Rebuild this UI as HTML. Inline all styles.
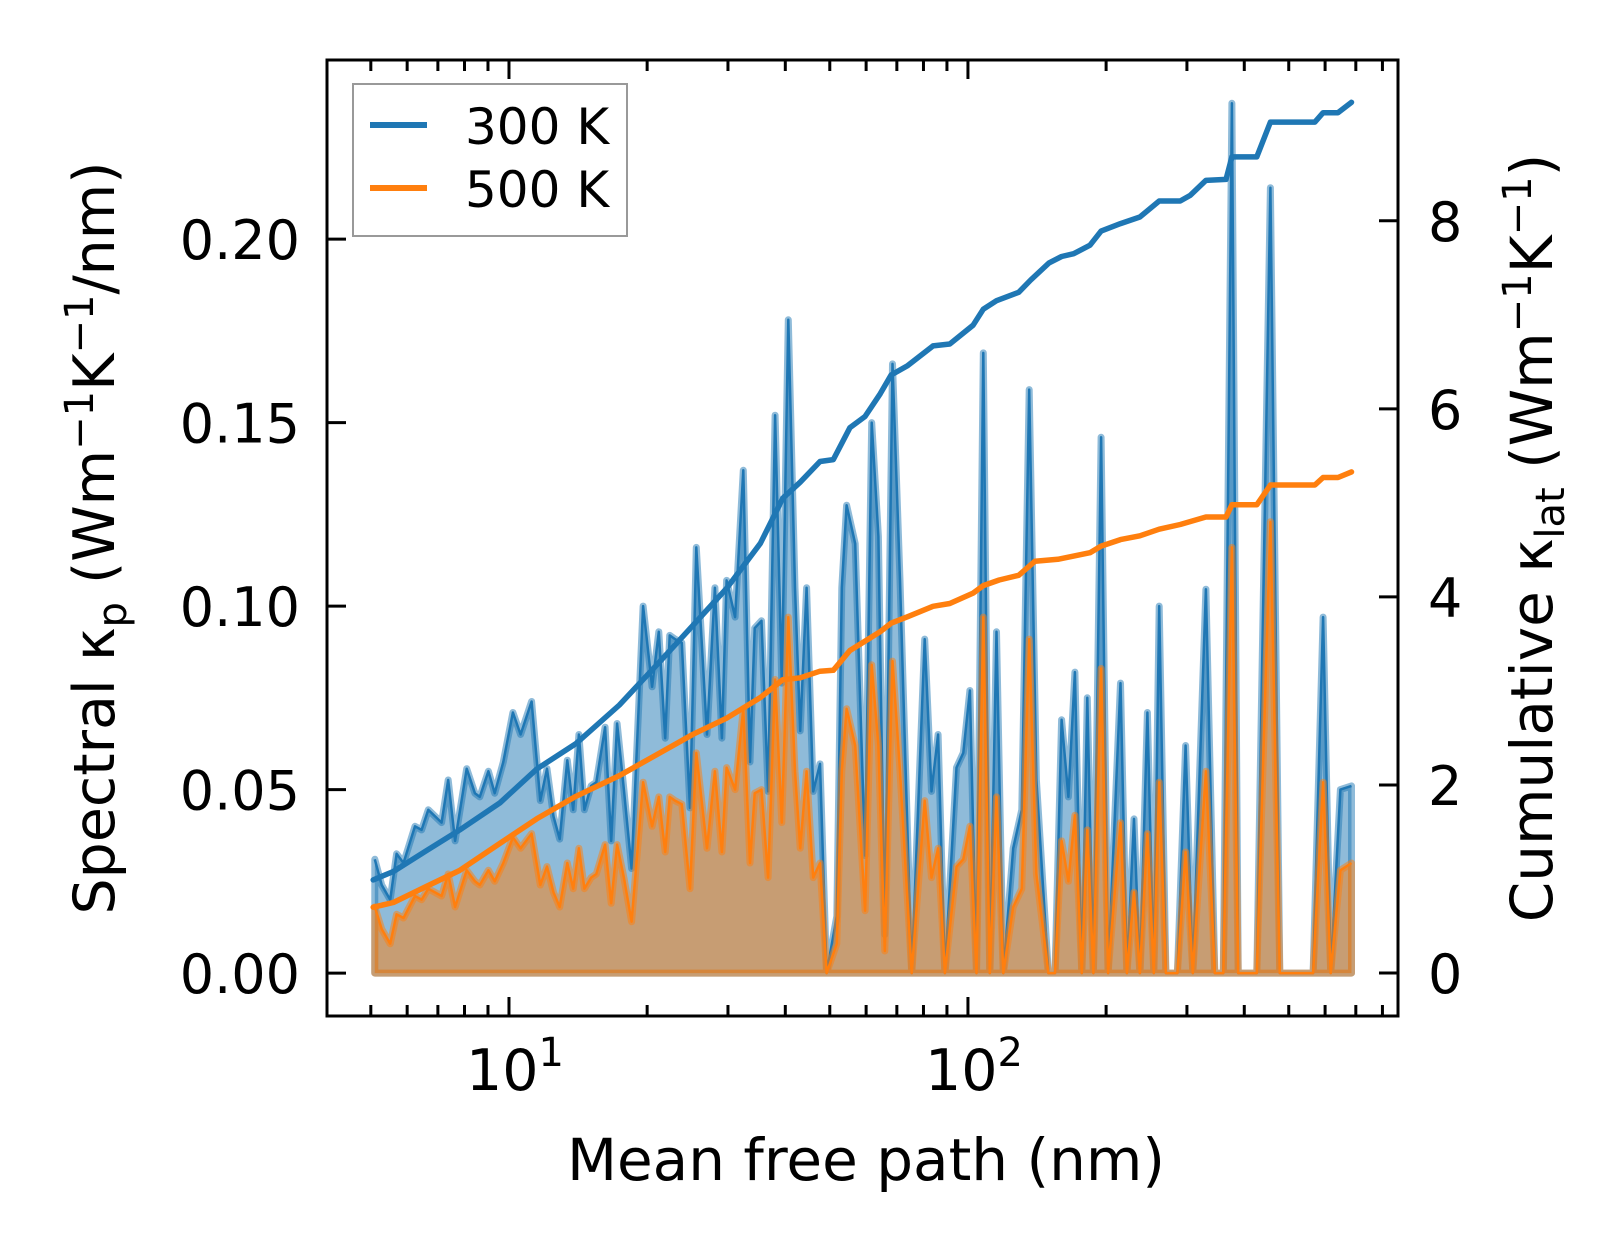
<!DOCTYPE html>
<html><head><meta charset="utf-8">
<style>
html,body{margin:0;padding:0;background:#fff;}
svg{display:block;}
text{font-family:"DejaVu Sans","Liberation Sans",sans-serif;fill:#000;}
</style></head>
<body>
<svg id="chart" xmlns="http://www.w3.org/2000/svg" width="1623" height="1254" viewBox="0 0 1623 1254">
<rect width="1623" height="1254" fill="#fff"/>
<g id="plot"></g>
</svg>
<script>
// ---- data ----
const mfp = [5.1,5.28,5.51,5.69,5.89,6.24,6.45,6.67,7.13,7.37,7.63,8.09,8.43,8.64,9.02,9.31,9.72,10.2,10.6,11.2,11.7,12.1,12.5,12.9,13.4,13.8,14.2,14.6,15.1,15.5,16.2,16.7,17.2,17.8,18.5,19.6,20.5,21.2,21.9,22.4,23.0,23.8,24.8,25.6,27.0,28.1,29.1,29.8,31.1,32.4,33.5,34.3,35.5,36.7,38.0,39.3,40.6,42.0,43.1,44.5,46.0,47.6,49.2,51.8,53.1,54.4,56.8,59.7,61.7,63.8,65.9,68.5,71.1,75.4,80.5,83.3,86.1,89.1,94.4,97.7,101,104.4,108,111.6,115.4,119.4,125.5,131,136,141,149.7,154.8,160,165.5,171,177,182,187.6,195,202,215,222,230,237,246,254,261,270,286,298,309,330,345,360,376,388,426,456,478,565,594,617,648,685];
const spec300 = [.031,.024,.020,.0325,.030,.040,.039,.0445,.041,.0526,.036,.0557,.049,.048,.055,.049,.0575,.071,.065,.074,.047,.0557,.0427,.0365,.058,.0445,.065,.0445,.051,.052,.067,.036,.068,.050,.0285,.100,.078,.093,.064,.092,.091,.090,.045,.116,.065,.105,.064,.107,.097,.137,.0575,.094,.096,.0495,.152,.079,.178,.105,.066,.105,.0495,.057,0,.0155,.105,.1275,.117,.032,.150,.119,.0105,.166,.107,0,.091,.0495,.065,0,.056,.060,.077,0,.169,0,.093,0,.034,.0445,.159,.0526,0,0,.069,.048,.082,0,.075,0,.146,0,.079,0,.042,0,.071,0,.100,0,0,.062,0,.1046,0,0,.237,0,0,.214,0,0,.097,0,.050,.051];
const spec500 = [.018,.012,.008,.016,.015,.021,.020,.023,.021,.027,.018,.028,.025,.024,.028,.025,.030,.037,.034,.038,.024,.029,.022,.018,.030,.023,.034,.023,.026,.027,.035,.019,.035,.026,.014,.052,.040,.048,.033,.048,.047,.046,.023,.060,.034,.055,.033,.056,.050,.072,.030,.049,.050,.026,.080,.041,.097,.055,.034,.055,.026,.030,0,.008,.055,.072,.062,.017,.084,.062,.006,.085,.055,0,.047,.026,.034,0,.029,.031,.040,0,.097,0,.048,0,.018,.023,.091,.027,0,0,.036,.025,.043,0,.039,0,.083,0,.041,0,.022,0,.038,0,.052,0,0,.033,0,.055,0,0,.116,0,0,.123,0,0,.052,0,.028,.030];
const cumX300 = [5.06,5.6,6.6,7.8,9.56,11.5,14.0,17.4,21.3,25.2,29.8,35.3,39.5,43.1,47.6,50.9,55.3,59.7,64.4,68.0,73.9,83.9,91.3,102.6,108,115.4,129,137,150,160,170,184.5,195,215,237,261,290,305,330,365,376,426,456,570,594,640,685];
const cum300 = [0.99,1.08,1.30,1.52,1.81,2.17,2.44,2.85,3.31,3.70,4.09,4.57,5.05,5.22,5.44,5.46,5.80,5.92,6.16,6.36,6.46,6.67,6.69,6.89,7.06,7.15,7.24,7.37,7.55,7.62,7.65,7.74,7.89,7.97,8.04,8.21,8.21,8.27,8.43,8.44,8.68,8.68,9.05,9.05,9.15,9.15,9.26];
const cumX500 = [5.06,5.6,6.6,7.8,9.56,11.5,14.0,17.4,21.3,25.2,29.8,35.3,39.5,43.1,47.6,50.9,55.3,59.7,64.4,68.0,73.9,83.9,91.3,102.6,108,117,129,140,157,184.5,195,215,237,261,290,330,365,376,426,456,570,594,640,685];
const cum500 = [0.70,0.75,0.92,1.09,1.38,1.64,1.88,2.10,2.34,2.54,2.71,2.93,3.12,3.14,3.21,3.22,3.43,3.53,3.63,3.72,3.79,3.90,3.93,4.04,4.12,4.18,4.23,4.38,4.40,4.47,4.54,4.61,4.65,4.72,4.77,4.85,4.85,4.98,4.98,5.19,5.19,5.27,5.27,5.33];
const leftTicks = [0,0.05,0.10,0.15,0.20];
const leftTickLabels = ["0.00","0.05","0.10","0.15","0.20"];
const rightTicks = [0,2,4,6,8];
const rightTickLabels = ["0","2","4","6","8"];
const xMajor = [10,100];
const xMajorExp = ["1","2"];
const xMinor = [5,6,7,8,9,20,30,40,50,60,70,80,90,200,300,400,500,600,700,800];
const seriesNames = ["300 K","500 K"];

// ---- axes ----
const L=327,R=1398,T=60,B=1016;
const xLogMin=0.6035, xLogMax=2.937;
const yLMin=-0.0117, yLMax=0.2488;
const yRMin=-0.457, yRMax=9.71;
const X = v => L + (Math.log10(v)-xLogMin)/(xLogMax-xLogMin)*(R-L);
const YL = v => B - (v-yLMin)/(yLMax-yLMin)*(B-T);
const YR = v => B - (v-yRMin)/(yRMax-yRMin)*(B-T);
const NS="http://www.w3.org/2000/svg";
const g=document.getElementById('plot');
function mk(tag, attrs, parent){const e=document.createElementNS(NS,tag);for(const k in attrs)e.setAttribute(k,attrs[k]);(parent||g).appendChild(e);return e;}

const C1="#1f77b4", C2="#ff7f0e";
function areaPath(ys){let d="M"+X(mfp[0])+","+YL(0);mfp.forEach((x,i)=>{d+="L"+X(x).toFixed(1)+","+YL(ys[i]).toFixed(1);});d+="L"+X(mfp[mfp.length-1])+","+YL(0)+"Z";return d;}
function linePath(xs,ys,yf){return xs.map((x,i)=>(i?"L":"M")+X(x).toFixed(1)+","+yf(ys[i]).toFixed(1)).join("");}

const a1=mk('path',{d:areaPath(spec300),fill:C1,'fill-opacity':0.5,stroke:C1,'stroke-opacity':0.5,'stroke-width':7,'stroke-linejoin':'round'});


const l1=mk('path',{d:linePath(mfp,spec300,YL),fill:'none',stroke:C1,'stroke-width':2.5,'stroke-linejoin':'round'});


const a2=mk('path',{d:areaPath(spec500),fill:C2,'fill-opacity':0.5,stroke:C2,'stroke-opacity':0.5,'stroke-width':7,'stroke-linejoin':'round'});


const l2=mk('path',{d:linePath(mfp,spec500,YL),fill:'none',stroke:C2,'stroke-width':2.5,'stroke-linejoin':'round'});


const c1=mk('path',{d:linePath(cumX300,cum300,YR),fill:'none',stroke:C1,'stroke-width':5.5,'stroke-linejoin':'round','stroke-linecap':'round'});


const c2=mk('path',{d:linePath(cumX500,cum500,YR),fill:'none',stroke:C2,'stroke-width':5.5,'stroke-linejoin':'round','stroke-linecap':'round'});



// ticks
const ticks=mk('g',{stroke:'#000','stroke-width':3});


xMajor.forEach(v=>{mk('line',{x1:X(v),x2:X(v),y1:B,y2:B-19},ticks);mk('line',{x1:X(v),x2:X(v),y1:T,y2:T+19},ticks);});
xMinor.forEach(v=>{mk('line',{x1:X(v),x2:X(v),y1:B,y2:B-11},ticks);mk('line',{x1:X(v),x2:X(v),y1:T,y2:T+11},ticks);});
leftTicks.forEach(v=>mk('line',{x1:L,x2:L+19,y1:YL(v),y2:YL(v)},ticks));
rightTicks.forEach(v=>mk('line',{x1:R,x2:R-19,y1:YR(v),y2:YR(v)},ticks));

// spines
const sp=mk('rect',{x:L,y:T,width:R-L,height:B-T,fill:'none',stroke:'#000','stroke-width':3});



// tick labels
leftTicks.forEach((v,i)=>{const t=mk('text',{x:300,y:YL(v)+20,'text-anchor':'end','font-size':54});t.textContent=leftTickLabels[i];

});
rightTicks.forEach((v,i)=>{const t=mk('text',{x:1428,y:YR(v)+20,'text-anchor':'start','font-size':54});t.textContent=rightTickLabels[i];

});
xMajor.forEach((v,i)=>{const t=mk('text',{x:X(v)+6,y:1090,'text-anchor':'middle','font-size':57});t.textContent="10";const s=mk('tspan',{dy:-24,'font-size':40},t);s.textContent=xMajorExp[i];

});
</script>
<svg style="position:absolute;left:0;top:0" width="1623" height="1254">
<text x="866" y="1180" text-anchor="middle" font-size="58">Mean free path (nm)</text>
<text transform="translate(114,538) rotate(-90)" text-anchor="middle" font-size="57">Spectral κ<tspan dy="12" font-size="40">p</tspan><tspan dy="-12"> (Wm</tspan><tspan dy="-21" font-size="40">−1</tspan><tspan dy="21">K</tspan><tspan dy="-21" font-size="40">−1</tspan><tspan dy="21">/nm)</tspan></text>
<text transform="translate(1552,538) rotate(-90)" text-anchor="middle" font-size="58">Cumulative κ<tspan dy="12" font-size="40">lat</tspan><tspan dy="-12"> (Wm</tspan><tspan dy="-21" font-size="40">−1</tspan><tspan dy="21">K</tspan><tspan dy="-21" font-size="40">−1</tspan><tspan dy="21">)</tspan></text>
<g>
<rect x="353" y="84" width="274" height="152" fill="#fff" fill-opacity="0.8" stroke="#999" stroke-width="2"/>
<line x1="370" x2="427" y1="125" y2="125" stroke="#1f77b4" stroke-width="6"/>
<text x="465" y="144" font-size="50">300 K</text>
<line x1="370" x2="427" y1="188" y2="188" stroke="#ff7f0e" stroke-width="6"/>
<text x="465" y="207" font-size="50">500 K</text>
</g>
</svg>
</body></html>
